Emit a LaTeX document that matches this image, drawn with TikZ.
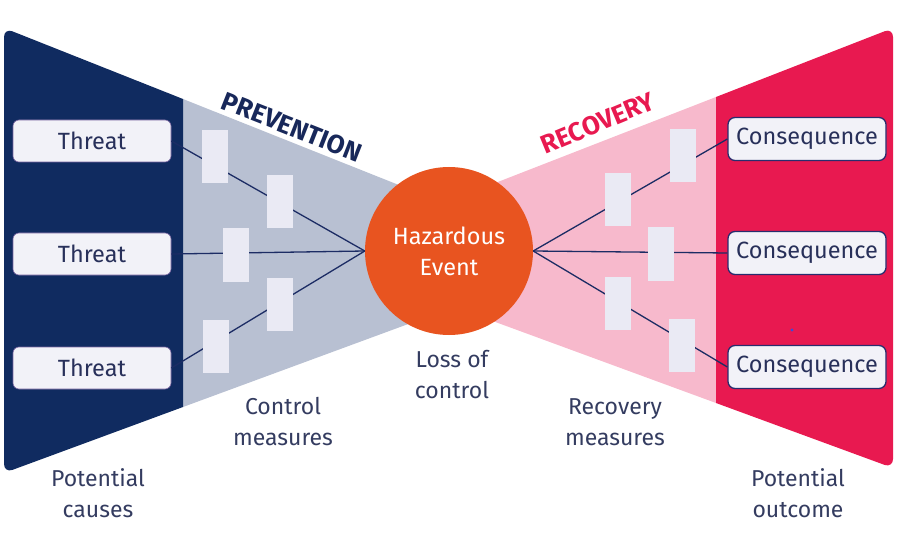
\documentclass[tikz,border=0pt]{standalone}
\usepackage{fontspec}
\setmainfont{Fira Sans}
\begin{document}
\begin{tikzpicture}[x=1pt,y=-1pt,
  navyc/.style={fill={rgb,255:red,16;green,43;blue,96}},
  labeltext/.style={text={rgb,255:red,52;green,60;blue,96},align=center,font=\fontsize{23}{31}\selectfont},
  boxtext/.style={text={rgb,255:red,40;green,48;blue,90},font=\fontsize{23.5}{26}\selectfont},
  threatbox/.style={boxtext,draw={rgb,255:red,120;green,100;blue,160},line width=0.6pt,fill={rgb,255:red,242;green,242;blue,248},rounded corners=6pt,minimum width=158pt,minimum height=42pt,inner sep=0pt},
  consbox/.style={boxtext,draw={rgb,255:red,40;green,45;blue,110},line width=1.3pt,fill={rgb,255:red,242;green,242;blue,248},rounded corners=7pt,minimum width=158pt,minimum height=43pt,inner sep=0pt},
  barrier/.style={fill={rgb,255:red,234;green,234;blue,244},minimum width=26pt,minimum height=53pt,inner sep=0pt},
  link/.style={draw={rgb,255:red,28;green,44;blue,100},line width=1.3pt}
]
\useasboundingbox (0,0) rectangle (912,537);
% panels
\fill[fill={rgb,255:red,184;green,192;blue,210}] (183,99) -- (449,205) -- (449,309) -- (183,407) -- cycle;
\fill[fill={rgb,255:red,247;green,185;blue,204}] (716,97) -- (449,201) -- (449,305) -- (716,403) -- cycle;
\fill[navyc] (183,99) [rounded corners=9pt] -- (4,28) -- (4,473) [sharp corners] -- (183,407) -- cycle;
\fill[fill={rgb,255:red,232;green,25;blue,80}] (716,97) [rounded corners=9pt] -- (893,28) -- (893,468) [sharp corners] -- (716,403) -- cycle;
% labels along slopes
\node[rotate=-21.5,text={rgb,255:red,24;green,40;blue,90},font=\fontsize{26}{30}\selectfont\bfseries] (prev) at (292,127) {PREVENTION};
\node[rotate=22.5,text={rgb,255:red,232;green,25;blue,80},font=\fontsize{26}{30}\selectfont\bfseries] (reco) at (598,123) {RECOVERY};
% main nodes
\node[threatbox] (t1) at (92,141) {Threat};
\node[threatbox] (t2) at (92,254) {Threat};
\node[threatbox] (t3) at (92,368) {Threat};
\node[consbox] (c1) at (807,139) {Consequence};
\node[consbox] (c2) at (807,253) {Consequence};
\node[consbox] (c3) at (807,367) {Consequence};
\node[circle,fill={rgb,255:red,232;green,84;blue,32},minimum size=168pt,inner sep=0pt,text=white,align=center,font=\fontsize{23.5}{31}\selectfont] (h) at (449,251) {Hazardous\\Event};
% links
\draw[link] (t1.east) -- (h.west);
\draw[link] (t2.east) -- (h.west);
\draw[link] (t3.east) -- (h.west);
\draw[link] (h.east) -- (c1.west);
\draw[link] (h.east) -- (c2.west);
\draw[link] (h.east) -- (c3.west);
% barriers
\node[barrier] (b1) at (215,157) {};
\node[barrier] (b2) at (280,202) {};
\node[barrier] (b3) at (236,255) {};
\node[barrier] (b4) at (280,304) {};
\node[barrier] (b5) at (216,346) {};
\node[barrier] (r1) at (683,156) {};
\node[barrier] (r2) at (618,200) {};
\node[barrier] (r3) at (661,254) {};
\node[barrier] (r4) at (618,303) {};
\node[barrier] (r5) at (682,345) {};
% bottom labels
\node[labeltext] (pc) at (98,493) {Potential\\causes};
\node[labeltext] (cm) at (283,422) {Control\\measures};
\node[labeltext] (lc) at (452,375) {Loss of\\control};
\node[labeltext] (rm) at (615,422) {Recovery\\measures};
\node[labeltext] (po) at (798,493) {Potential\\outcome};
% small dot
\fill[fill={rgb,255:red,60;green,75;blue,215}] (792,330) circle (1.6pt);
\end{tikzpicture}
\end{document}
